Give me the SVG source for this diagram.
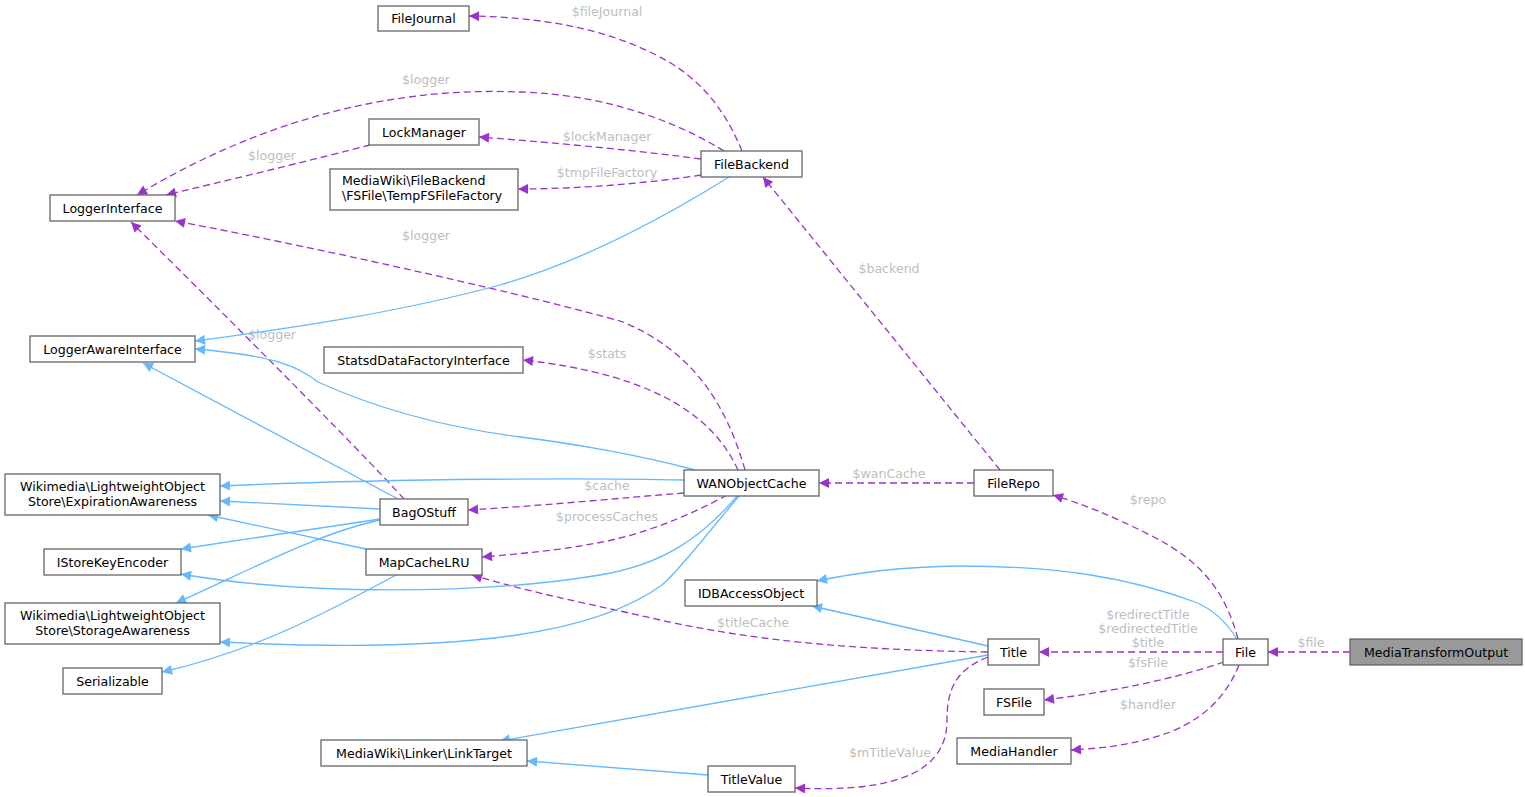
<svg xmlns="http://www.w3.org/2000/svg" width="1525" height="797" viewBox="0 0 1525 797">
<style>
text{font-family:"DejaVu Sans","Liberation Sans",sans-serif;font-size:12.6px}
.n rect{fill:#fff;stroke:#666;stroke-width:1.3}
.n text{fill:#000;text-anchor:middle}
.main rect{fill:#999;stroke:#666}
.u{fill:none;stroke:#9a32cd;stroke-width:1.3;stroke-dasharray:7,4;marker-end:url(#ap)}
.i{fill:none;stroke:#63b8ff;stroke-width:1.3;marker-end:url(#ab)}
.l{fill:#bebebe;text-anchor:middle}
</style>
<defs>
<marker id="ap" viewBox="0 0 10 10" refX="10" refY="5" markerWidth="14" markerHeight="10" markerUnits="userSpaceOnUse" orient="auto">
<path d="M0,0 L10,5 L0,10 z" fill="#9a32cd" stroke="none"/>
</marker>
<marker id="ab" viewBox="0 0 10 10" refX="10" refY="5" markerWidth="14" markerHeight="10" markerUnits="userSpaceOnUse" orient="auto">
<path d="M0,0 L10,5 L0,10 z" fill="#63b8ff" stroke="none"/>
</marker>
</defs>
<rect width="1525" height="797" fill="#fff"/>
<g id="edges">
<path class="u" d="M742,151 C725,110 700,75 650,52 C600,28 540,17 469,16"/>
<text class="l" x="607" y="16">$fileJournal</text>
<path class="u" d="M724,151 C690,130 620,95 520,92 C400,87 270,115 137,195"/>
<text class="l" x="426" y="84">$logger</text>
<path class="u" d="M701,159 C650,152 560,143 479,137"/>
<text class="l" x="607" y="141">$lockManager</text>
<path class="u" d="M701,175 C650,183 580,189 518,189"/>
<text class="l" x="607" y="177">$tmpFileFactory</text>
<path class="u" d="M370,145 C320,158 250,175 166,195"/>
<text class="l" x="272" y="160">$logger</text>
<path class="u" d="M745,470 C725,400 690,350 623,322 C540,298 330,250 175,221"/>
<text class="l" x="426" y="240">$logger</text>
<path class="u" d="M404,499 C360,450 200,290 131,222"/>
<text class="l" x="272" y="339">$logger</text>
<path class="u" d="M738,470 C715,420 660,375 523,360"/>
<text class="l" x="607" y="358">$stats</text>
<path class="u" d="M684,493 C620,498 540,506 468,510"/>
<text class="l" x="607" y="490">$cache</text>
<path class="u" d="M727,495 C700,510 660,528 620,538 C580,548 530,553 482,557"/>
<text class="l" x="607" y="521">$processCaches</text>
<path class="u" d="M988,652 C860,650 760,642 660,620 C600,606 540,595 472,575"/>
<text class="l" x="753" y="627">$titleCache</text>
<path class="u" d="M974,483 L819,483"/>
<text class="l" x="889" y="478">$wanCache</text>
<path class="u" d="M1000,470 L763,177"/>
<text class="l" x="889" y="273">$backend</text>
<path class="u" d="M1238,639 C1225,590 1200,560 1150,535 C1110,515 1085,505 1053,495"/>
<text class="l" x="1148" y="504">$repo</text>
<path class="u" d="M1223,652 L1039,652"/>
<text class="l" x="1148" y="619">$redirectTitle</text>
<text class="l" x="1148" y="633">$redirectedTitle</text>
<text class="l" x="1148" y="647">$title</text>
<path class="u" d="M1224,662 C1170,680 1110,692 1044,700"/>
<text class="l" x="1148" y="667">$fsFile</text>
<path class="u" d="M1239,665 C1225,700 1200,720 1170,732 C1140,743 1110,748 1071,750"/>
<text class="l" x="1148" y="709">$handler</text>
<path class="u" d="M1350,652 L1268,652"/>
<text class="l" x="1311" y="647">$file</text>
<path class="u" d="M988,657 C955,670 947,690 947,720 C947,770 900,793 795,788"/>
<text class="l" x="890" y="757">$mTitleValue</text>
<path class="i" d="M729,177 C660,220 580,262 500,285 C400,312 300,327 195,341"/>
<path class="i" d="M695,470 C640,455 570,443 520,437 C450,428 380,410 318,382 C300,368 280,356 195,349"/>
<path class="i" d="M398,499 L143,363"/>
<path class="i" d="M684,480 C600,478 400,478 220,486"/>
<path class="i" d="M380,509 L220,501"/>
<path class="i" d="M366,549 L208,515"/>
<path class="i" d="M380,519 L181,549"/>
<path class="i" d="M738,495 C700,540 660,565 600,575 C480,595 300,595 181,574"/>
<path class="i" d="M380,520 C320,533 260,565 176,603"/>
<path class="i" d="M740,495 C710,530 680,570 662,585 C600,630 480,655 220,642"/>
<path class="i" d="M398,574 C340,605 260,650 162,672"/>
<path class="i" d="M1237,639 C1225,620 1210,608 1195,602 C1130,578 1060,566 960,566 C900,567 860,572 817,581"/>
<path class="i" d="M988,646 L812,606"/>
<path class="i" d="M988,655 L500,741"/>
<path class="i" d="M708,775 L527,761"/>
</g>
<g id="FileJournal" class="n"><rect x="378" y="6" width="91" height="25"/><text x="423.5" y="22.5">FileJournal</text></g>
<g id="LockManager" class="n"><rect x="369" y="119" width="110" height="26"/><text x="424" y="136.5">LockManager</text></g>
<g id="TempFSFileFactory" class="n"><rect x="330" y="169" width="188" height="41"/><text x="342" y="185" style="text-anchor:start">MediaWiki\FileBackend</text><text x="342" y="200" style="text-anchor:start">\FSFile\TempFSFileFactory</text></g>
<g id="LoggerInterface" class="n"><rect x="50" y="195" width="125" height="26"/><text x="112.5" y="212.5">LoggerInterface</text></g>
<g id="FileBackend" class="n"><rect x="701" y="151" width="101" height="26"/><text x="751.5" y="168.5">FileBackend</text></g>
<g id="LoggerAwareInterface" class="n"><rect x="30" y="336" width="165" height="26"/><text x="112.5" y="353.5">LoggerAwareInterface</text></g>
<g id="StatsdDataFactoryInterface" class="n"><rect x="324" y="347" width="199" height="26"/><text x="423.5" y="364.5">StatsdDataFactoryInterface</text></g>
<g id="ExpirationAwareness" class="n"><rect x="5" y="474" width="215" height="41"/><text x="112.5" y="491">Wikimedia\LightweightObject</text><text x="112.5" y="506">Store\ExpirationAwareness</text></g>
<g id="BagOStuff" class="n"><rect x="380" y="499" width="88" height="26"/><text x="424" y="516.5">BagOStuff</text></g>
<g id="IStoreKeyEncoder" class="n"><rect x="44" y="549" width="137" height="26"/><text x="112.5" y="566.5">IStoreKeyEncoder</text></g>
<g id="MapCacheLRU" class="n"><rect x="366" y="549" width="116" height="26"/><text x="424" y="566.5">MapCacheLRU</text></g>
<g id="WANObjectCache" class="n"><rect x="684" y="470" width="135" height="26"/><text x="751.5" y="487.5">WANObjectCache</text></g>
<g id="FileRepo" class="n"><rect x="974" y="470" width="79" height="26"/><text x="1013.5" y="487.5">FileRepo</text></g>
<g id="IDBAccessObject" class="n"><rect x="685" y="580" width="132" height="26"/><text x="751" y="597.5">IDBAccessObject</text></g>
<g id="StorageAwareness" class="n"><rect x="5" y="603" width="215" height="41"/><text x="112.5" y="620">Wikimedia\LightweightObject</text><text x="112.5" y="635">Store\StorageAwareness</text></g>
<g id="Serializable" class="n"><rect x="63" y="668" width="99" height="26"/><text x="112.5" y="685.5">Serializable</text></g>
<g id="Title" class="n"><rect x="988" y="639" width="51" height="26"/><text x="1013.5" y="656.5">Title</text></g>
<g id="File" class="n"><rect x="1223" y="639" width="45" height="26"/><text x="1245.5" y="656.5">File</text></g>
<g id="MediaTransformOutput" class="n main"><rect x="1350" y="639" width="172" height="26"/><text x="1436" y="656.5">MediaTransformOutput</text></g>
<g id="FSFile" class="n"><rect x="984" y="689" width="60" height="26"/><text x="1014" y="706.5">FSFile</text></g>
<g id="MediaHandler" class="n"><rect x="957" y="738" width="114" height="26"/><text x="1014" y="755.5">MediaHandler</text></g>
<g id="LinkTarget" class="n"><rect x="321" y="740" width="206" height="26"/><text x="424" y="757.5">MediaWiki\Linker\LinkTarget</text></g>
<g id="TitleValue" class="n"><rect x="708" y="766" width="87" height="26"/><text x="751.5" y="783.5">TitleValue</text></g>
</svg>
